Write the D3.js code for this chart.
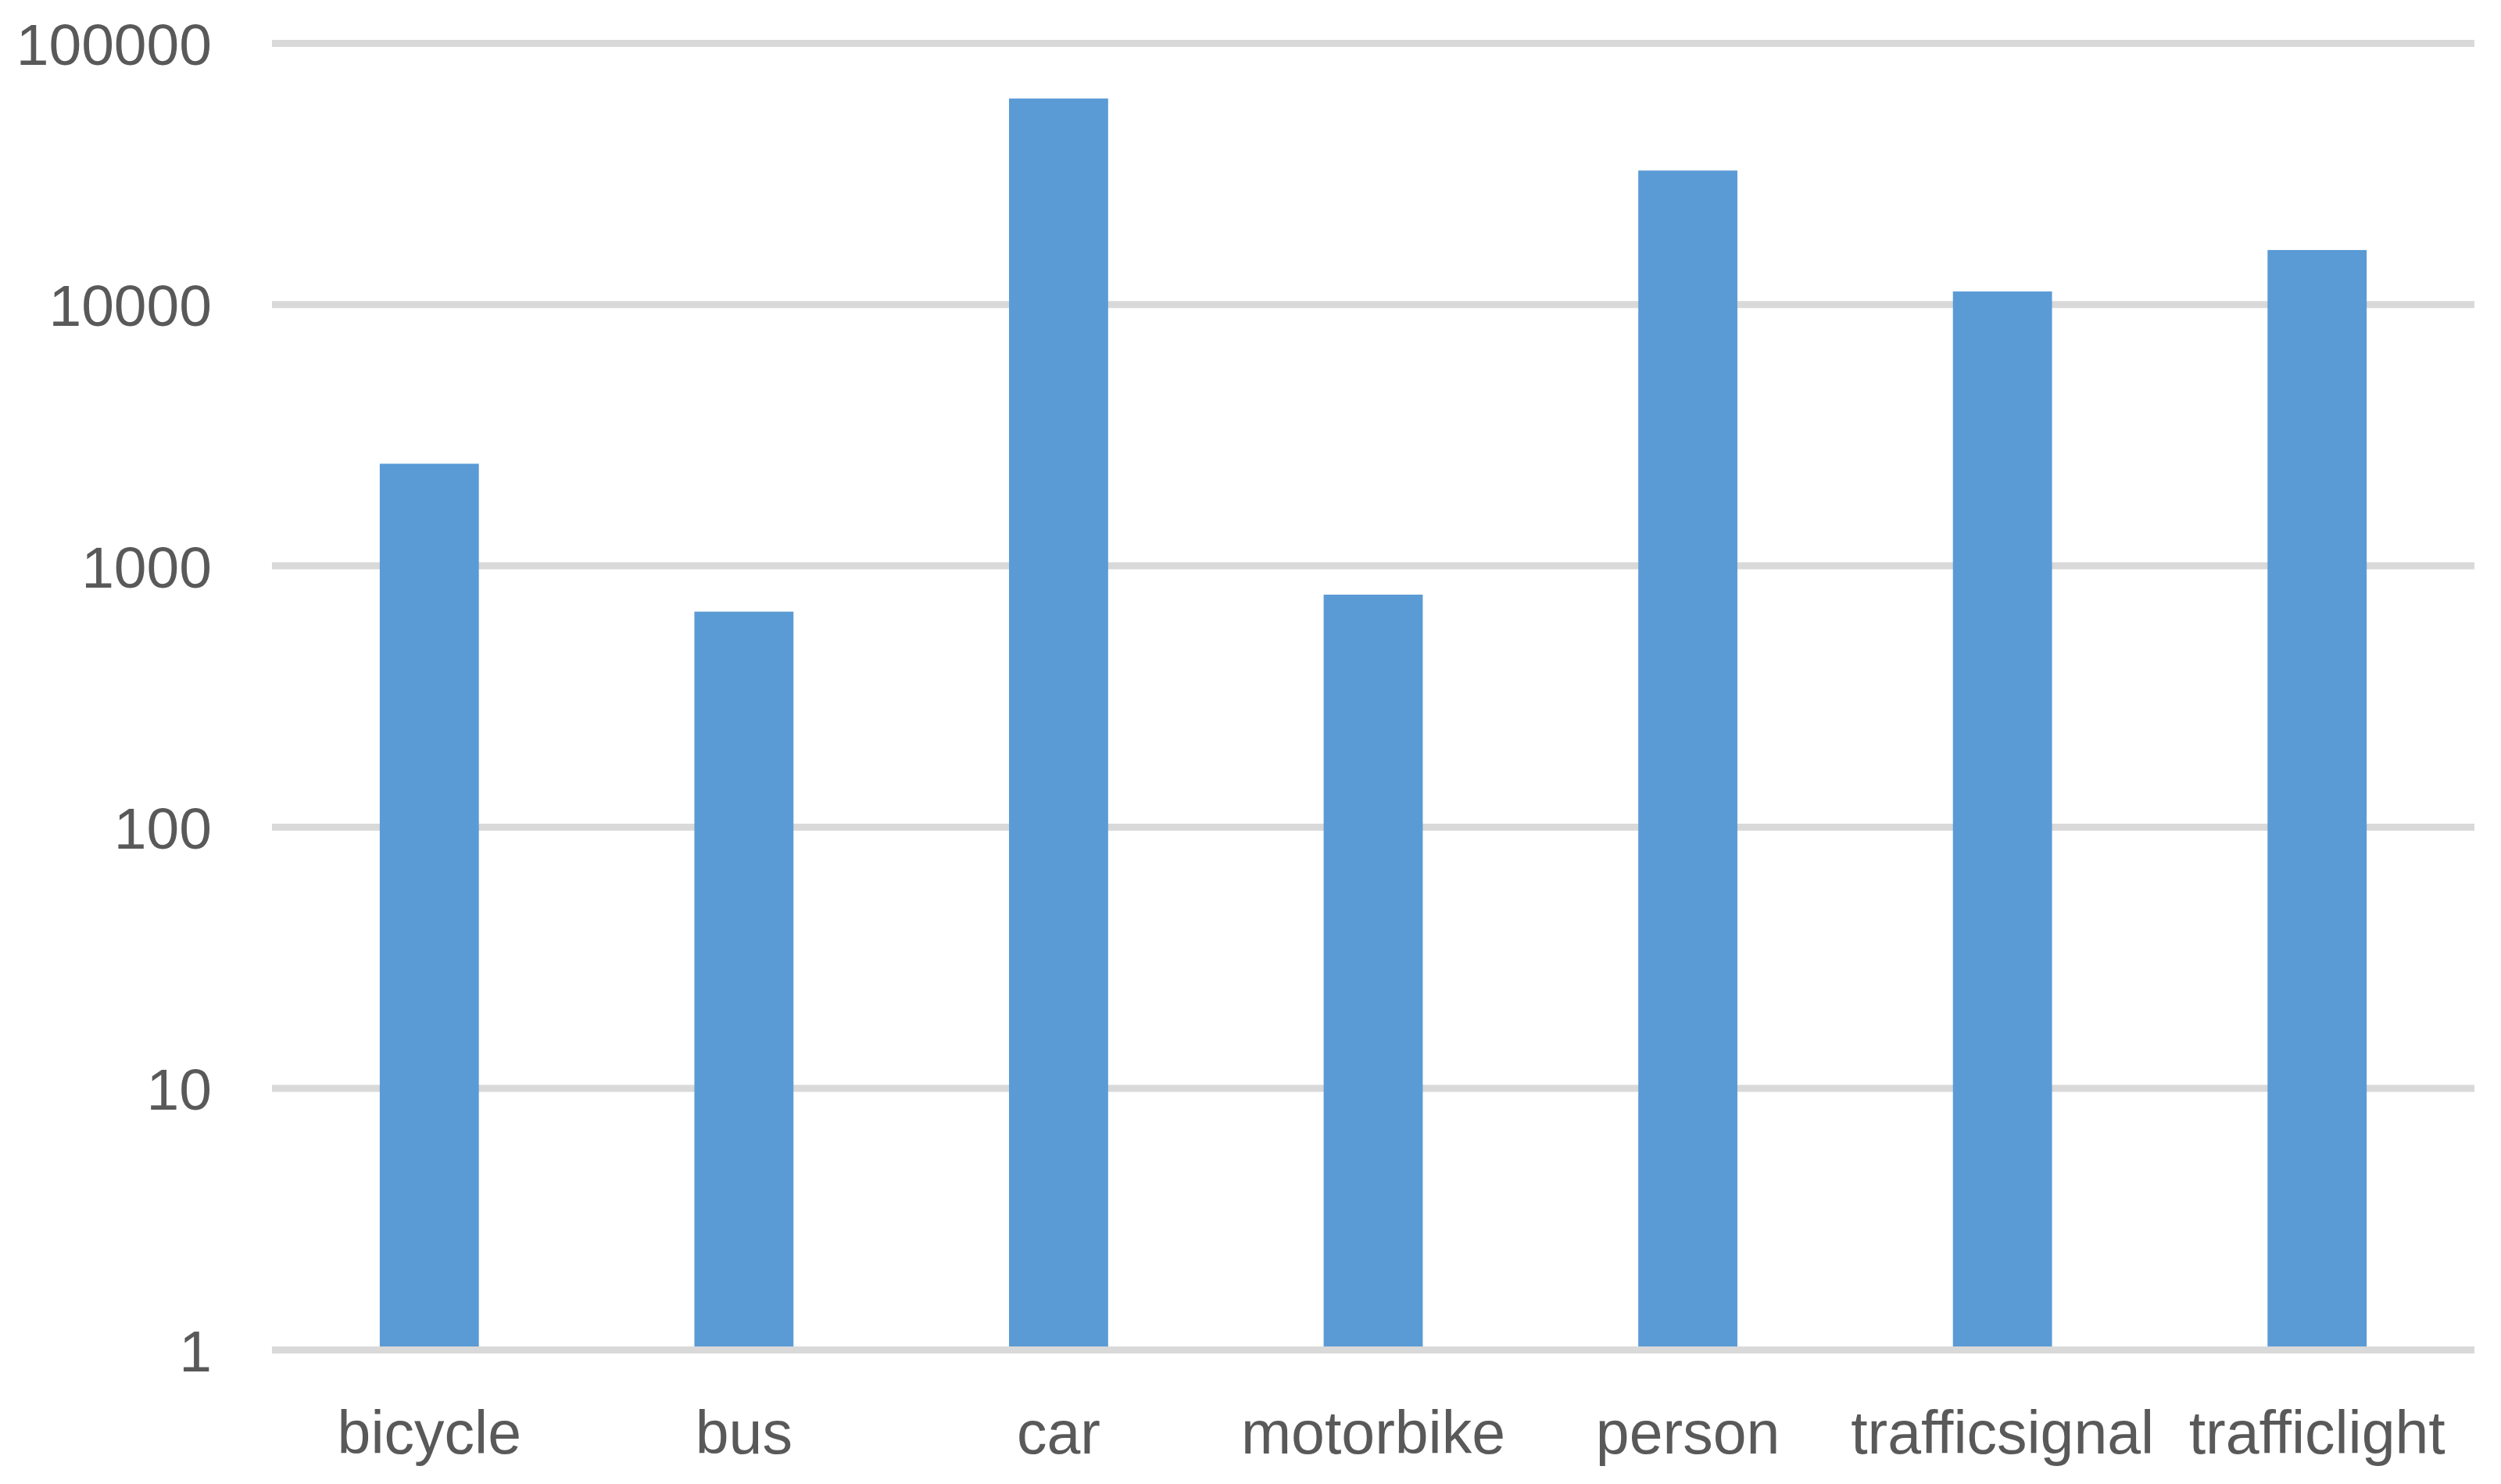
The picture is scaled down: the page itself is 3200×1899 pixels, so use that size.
<!DOCTYPE html>
<html>
<head>
<meta charset="utf-8">
<script src="https://cdn.jsdelivr.net/npm/d3@7"></script>
<style>
  html, body { margin: 0; padding: 0; background: #ffffff; }
  svg { display: block; }
</style>
</head>
<body>
<svg id="chart" width="3200" height="1899"></svg>
<script>
const categories = ["bicycle", "bus", "car", "motorbike", "person", "trafficsignal", "trafficlight"];
const counts = [2460, 668, 61500, 776, 32600, 11230, 16180];
const yTicks = [1, 10, 100, 1000, 10000, 100000];

(function () {
  const plotLeft = 348, plotRight = 3166, plotTop = 55.5, plotBottom = 1727;

  const svg = d3.select("#chart");

  const x = d3.scaleBand()
    .domain(categories)
    .range([plotLeft, plotRight])
    .paddingInner(0.685)
    .paddingOuter(0.3425);

  const y = d3.scaleLog()
    .domain([1, 100000])
    .range([plotBottom, plotTop]);

  const font = "'Liberation Sans', Arial, sans-serif";
  const textColor = "#595959";

  // gridlines (behind bars)
  svg.append("g")
    .selectAll("line")
    .data(yTicks.filter(d => d !== 1))
    .join("line")
    .attr("x1", plotLeft)
    .attr("x2", plotRight)
    .attr("y1", d => y(d))
    .attr("y2", d => y(d))
    .attr("stroke", "#d9d9d9")
    .attr("stroke-width", 9);

  // bars
  svg.append("g")
    .selectAll("rect")
    .data(categories.map((c, i) => ({ c, v: counts[i] })))
    .join("rect")
    .attr("x", d => x(d.c))
    .attr("width", x.bandwidth())
    .attr("y", d => y(d.v))
    .attr("height", d => y(1) - y(d.v))
    .attr("fill", "#5b9bd5");

  // baseline gridline (value 1) on top
  svg.append("line")
    .attr("x1", plotLeft)
    .attr("x2", plotRight)
    .attr("y1", y(1) + 0.5)
    .attr("y2", y(1) + 0.5)
    .attr("stroke", "#d9d9d9")
    .attr("stroke-width", 9);

  // y axis labels
  const yAxis = d3.axisLeft(y)
    .tickValues(yTicks)
    .tickFormat(d3.format("d"))
    .tickSize(0)
    .tickPadding(0);

  const gy = svg.append("g")
    .attr("transform", "translate(271,0)")
    .call(yAxis);
  gy.select(".domain").remove();
  gy.selectAll("text")
    .attr("font-family", font)
    .attr("font-size", 75)
    .attr("fill", textColor)
    .attr("dy", "0.36em");

  // x axis labels
  const xAxis = d3.axisBottom(x).tickSize(0).tickPadding(0);
  const gx = svg.append("g")
    .attr("transform", "translate(0,1860)")
    .call(xAxis);
  gx.select(".domain").remove();
  gx.selectAll("text")
    .attr("font-family", font)
    .attr("font-size", 77)
    .attr("fill", textColor)
    .attr("dy", 0)
    .attr("y", 0);
})();
</script>
</body>
</html>
